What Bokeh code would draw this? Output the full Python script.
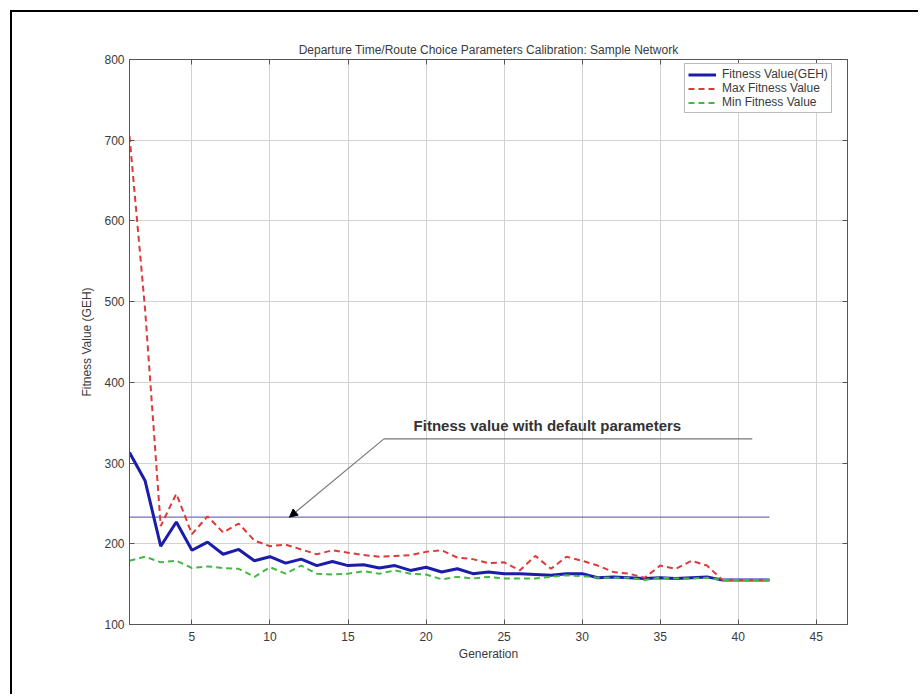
from bokeh.plotting import figure
from bokeh.models import (Legend, LegendItem, Arrow, NormalHead, Label, LinearAxis,
                          FixedTicker, CustomJSTickFormatter, Range1d)
from bokeh.embed import file_html
from bokeh.resources import INLINE

# ---------------- data ----------------
generations = list(range(1, 43))
fitness = [313, 278, 197, 227, 192, 202, 187, 193, 179, 184,
           176, 181, 173, 178, 173, 174, 170, 173, 167, 171,
           165, 169, 163, 165, 163, 163, 162, 161, 163, 163,
           158, 159, 158, 157, 158, 157, 158, 159, 155, 155,
           155, 155]
max_fitness = [705, 490, 222, 262, 212, 234, 214, 225, 204, 197,
               199, 193, 187, 192, 189, 186, 184, 185, 186, 190,
               192, 183, 181, 176, 177, 167, 185, 169, 184, 179,
               173, 165, 163, 158, 173, 169, 179, 173, 155, 155,
               155, 155]
min_fitness = [179, 184, 177, 179, 170, 172, 170, 169, 159, 171,
               163, 173, 163, 162, 163, 166, 163, 167, 163, 162,
               156, 159, 157, 159, 157, 157, 157, 159, 161, 160,
               158, 158, 158, 155, 158, 157, 157, 158, 155, 155,
               155, 155]
default_generations = [1, 42]
default_fitness = [233, 233]

x_ticks = [5, 10, 15, 20, 25, 30, 35, 40, 45]
y_ticks = [100, 200, 300, 400, 500, 600, 700, 800]

title_text = "Departure Time/Route Choice Parameters Calibration: Sample Network"
annotation_text = "Fitness value with default parameters"
series_names = ["Fitness Value(GEH)", "Max Fitness Value", "Min Fitness Value"]

FONT = "Liberation Sans"
TXT = "#3a3a3a"
FS = "12px"

p = figure(width=908, height=684, output_backend="svg", toolbar_location=None,
           x_range=Range1d(1, 47), y_range=Range1d(100, 800),
           min_border_left=117, min_border_right=73, min_border_top=47,
           min_border_bottom=72)
p.margin = (10, 0, 0, 10)
p.styles = {"border-left": "2px solid black", "border-top": "2px solid black"}
p.background_fill_color = "white"
p.border_fill_color = "white"
p.outline_line_color = "#555555"
p.outline_line_width = 1

p.title.text = title_text
p.title.text_font = FONT
p.title.text_font_size = FS
p.title.text_font_style = "normal"
p.title.text_color = TXT
p.title.align = "center"
p.title.standoff = 6

for ax in (p.xaxis[0], p.yaxis[0]):
    ax.major_label_text_font = FONT
    ax.major_label_text_font_size = FS
    ax.major_label_text_color = TXT
    ax.axis_label_text_font = FONT
    ax.axis_label_text_font_size = FS
    ax.axis_label_text_font_style = "normal"
    ax.axis_label_text_color = TXT
    ax.axis_line_color = "#555555"
    ax.major_tick_line_color = "#555555"
    ax.major_tick_in = 5
    ax.major_tick_out = 0
    ax.minor_tick_line_color = None
p.xaxis.ticker = FixedTicker(ticks=x_ticks)
p.yaxis.ticker = FixedTicker(ticks=y_ticks)
p.xaxis.axis_label = "Generation"
p.yaxis.axis_label = "Fitness Value (GEH)"
p.xaxis.major_label_standoff = 7
p.yaxis.major_label_standoff = 5
p.xaxis.axis_label_standoff = 3
p.yaxis.axis_label_standoff = 7

blank = CustomJSTickFormatter(code="return ''")
top_ax = LinearAxis(ticker=FixedTicker(ticks=x_ticks), formatter=blank,
                    major_tick_in=5, major_tick_out=0, minor_tick_line_color=None,
                    axis_line_color="#555555", major_tick_line_color="#555555")
right_ax = LinearAxis(ticker=FixedTicker(ticks=y_ticks), formatter=blank,
                      major_tick_in=5, major_tick_out=0, minor_tick_line_color=None,
                      axis_line_color="#555555", major_tick_line_color="#555555")
p.add_layout(top_ax, "above")
p.add_layout(right_ax, "right")

p.xgrid.ticker = FixedTicker(ticks=x_ticks)
p.ygrid.ticker = FixedTicker(ticks=y_ticks)
p.grid.grid_line_color = "#d2d2d2"
p.grid.grid_line_width = 1

p.line(default_generations, default_fitness, line_color="#6f6fc0", line_width=1.2)

r1 = p.line(generations, fitness, line_color="#1c1caa", line_width=3)
r2 = p.line(generations, max_fitness, line_color="#dd3a3a", line_width=2,
            line_dash="6 4")
r3 = p.line(generations, min_fitness, line_color="#44b844", line_width=2,
            line_dash="6 4")

legend = Legend(items=[LegendItem(label=series_names[0], renderers=[r1]),
                       LegendItem(label=series_names[1], renderers=[r2]),
                       LegendItem(label=series_names[2], renderers=[r3])],
                location=(555, 511))
legend.label_text_font = FONT
legend.label_text_font_size = FS
legend.label_text_color = TXT
legend.label_height = 13
legend.label_standoff = 6
legend.glyph_width = 28
legend.glyph_height = 13
legend.spacing = 0
legend.padding = 3
legend.margin = 0
legend.border_line_color = "#777777"
legend.border_line_width = 1
legend.background_fill_color = "white"
legend.background_fill_alpha = 1
p.add_layout(legend)

ann_x_start, ann_x_elbow, ann_y_line = 40.9, 17.3, 330
ann_tip_x, ann_tip_y = 11.25, 233
p.line([ann_x_start, ann_x_elbow], [ann_y_line, ann_y_line],
       line_color="#777777", line_width=1.2)
p.add_layout(Arrow(x_start=ann_x_elbow, y_start=ann_y_line, x_end=ann_tip_x,
                   y_end=ann_tip_y, line_color="#777777", line_width=1.2,
                   end=NormalHead(size=8, fill_color="black", line_color="black")))
p.add_layout(Label(x=19.2, y=346, text=annotation_text, text_font=FONT,
                   text_font_size="15px", text_font_style="bold",
                   text_color="#333333", text_baseline="middle"))

open("out.html", "w").write(file_html(p, INLINE))
